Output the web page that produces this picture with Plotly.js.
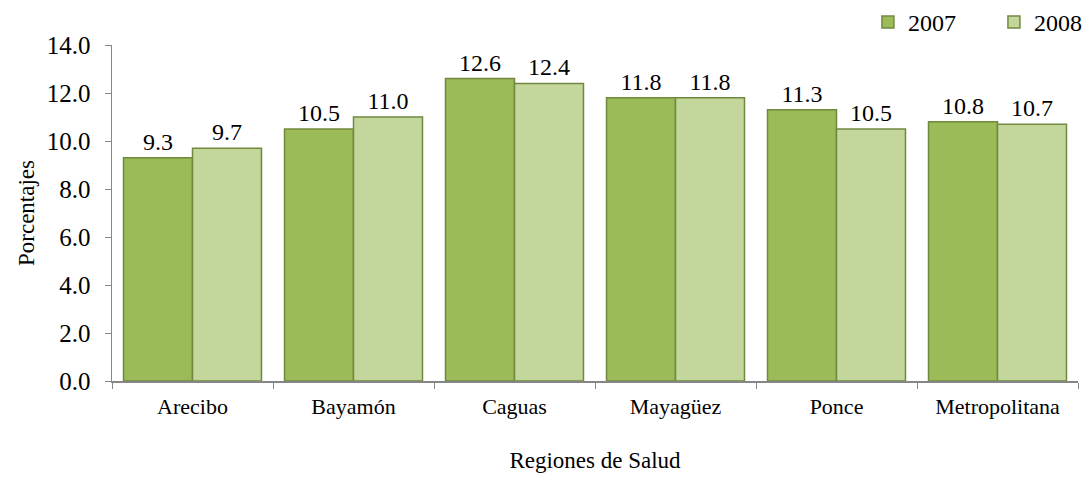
<!DOCTYPE html>
<html><head><meta charset="utf-8">
<script src="https://cdn.plot.ly/plotly-3.0.1.min.js"></script>
<style>html,body{margin:0;padding:0;background:#fff}</style>
</head><body>
<div id="chart" style="width:1089px;height:494px"></div>
<script>
const categories = ["Arecibo","Bayamón","Caguas","Mayagüez","Ponce","Metropolitana"];
const values2007 = [9.3, 10.5, 12.6, 11.8, 11.3, 10.8];
const values2008 = [9.7, 11.0, 12.4, 11.8, 10.5, 10.7];
const yTickVals = [0,2,4,6,8,10,12,14];
const yTickText = ["0.0","2.0","4.0","6.0","8.0","10.0","12.0","14.0"];

const font = "Liberation Serif";
const common = {
  type: "bar", x: categories,
  texttemplate: "%{y:.1f}", textposition: "outside", cliponaxis: false,
  textfont: {family: font, size: 24, color: "#000"},
  hoverinfo: "skip"
};
const data = [
  Object.assign({}, common, {name: "2007", y: values2007,
    marker: {color: "#9BBB59", line: {color: "#71893F", width: 1.5}}}),
  Object.assign({}, common, {name: "2008", y: values2008,
    marker: {color: "#C3D69B", line: {color: "#71893F", width: 1.5}}})
];
const layout = {
  width: 1089, height: 494,
  margin: {l: 112, r: 11, t: 45, b: 113, autoexpand: false},
  paper_bgcolor: "#fff", plot_bgcolor: "#fff",
  barmode: "group", bargap: 0.143, bargroupgap: 0,
  font: {family: font, color: "#000"},
  showlegend: true,
  legend: {orientation: "h", xref: "container", yref: "container",
    x: 0.797, xanchor: "left", y: 1.0, yanchor: "top",
    font: {family: font, size: 24}, traceorder: "normal", itemwidth: 30,
    entrywidth: 81, entrywidthmode: "pixels", bgcolor: "rgba(0,0,0,0)"},
  xaxis: {
    showline: true, linecolor: "#868686", linewidth: 1.5,
    ticks: "outside", tickson: "boundaries", ticklen: 6, tickcolor: "#868686",
    ticklabelstandoff: 5,
    tickfont: {family: font, size: 22}, showgrid: false, zeroline: false,
    title: {text: "Regiones de Salud", font: {family: font, size: 23}, standoff: 34}
  },
  yaxis: {
    range: [0, 14], tickvals: yTickVals, ticktext: yTickText,
    showline: true, linecolor: "#868686", linewidth: 1.5,
    ticks: "outside", ticklen: 6, tickcolor: "#868686",
    ticklabelstandoff: 9,
    tickfont: {family: font, size: 25}, showgrid: false, zeroline: false,
    title: {text: "Porcentajes", font: {family: font, size: 23}, standoff: 5}
  }
};
Plotly.newPlot("chart", data, layout, {displayModeBar: false, staticPlot: true});
</script>
</body></html>
